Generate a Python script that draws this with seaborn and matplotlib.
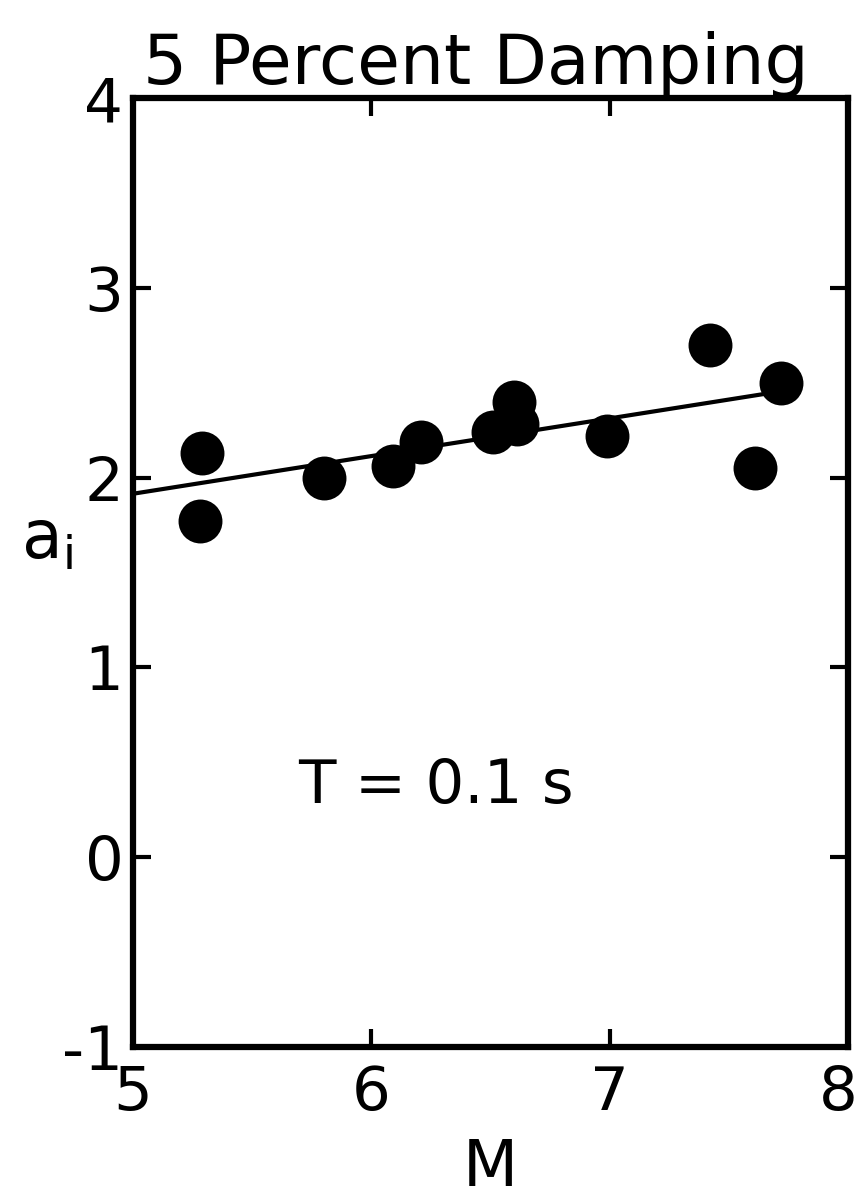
import matplotlib
matplotlib.use("Agg")
import matplotlib.pyplot as plt
import matplotlib.transforms as mtransforms
import seaborn as sns
import pandas as pd

# data
magnitude = [5.29, 5.28, 5.80, 6.09, 6.21, 6.51, 6.60, 6.61, 6.99, 7.42, 7.61, 7.72]
coef_a = [2.13, 1.77, 2.00, 2.06, 2.19, 2.24, 2.40, 2.28, 2.22, 2.70, 2.05, 2.50]
fit_m = [5.0, 7.67]
fit_a = [1.915, 2.445]
x_ticks = [5, 6, 7, 8]
y_ticks = [-1, 0, 1, 2, 3, 4]
y_tick_labels = ["-1", "0", "1", "2", "3", "4"]

sns.set_style("ticks")
plt.rcParams["font.family"] = ["DejaVu Sans"]
plt.rcParams["text.color"] = "black"
plt.rcParams["axes.labelcolor"] = "black"

fig = plt.figure(figsize=(8.62, 12.01), dpi=100)
ax = fig.add_axes([0.1543, 0.1282, 0.8295, 0.7902])

pts = pd.DataFrame({"M": magnitude, "a": coef_a})
line = pd.DataFrame({"M": fit_m, "a": fit_a})

sns.lineplot(data=line, x="M", y="a", ax=ax, color="black", linewidth=3.0)
sns.scatterplot(data=pts, x="M", y="a", ax=ax, color="black", s=1000,
                edgecolor="black", linewidth=0, zorder=3)

ax.set_xlim(5, 8)
ax.set_ylim(-1, 4)
ax.set_xticks(x_ticks)
ax.set_yticks(y_ticks)
ax.set_yticklabels(y_tick_labels)

for sp in ax.spines.values():
    sp.set_visible(True)
    sp.set_linewidth(4.5)
    sp.set_color("black")

ax.tick_params(axis="both", which="both", direction="in", length=13, width=3,
               top=True, right=True, labelsize=44, colors="black")
ax.tick_params(axis="x", pad=12)
ax.tick_params(axis="y", pad=7)

# nudge the last x tick label inward so it stays inside the figure
last = ax.get_xticklabels()[-1]
last.set_transform(last.get_transform() +
                   mtransforms.ScaledTranslation(-0.10, 0, fig.dpi_scale_trans))

ax.set_xlabel("M", fontsize=46, labelpad=10, color="black")
ax.set_ylabel(r"a$_\mathregular{i}$", fontsize=48, rotation=0, color="black")
ax.yaxis.set_label_coords(-0.12, 0.50)

ax.set_title("5 Percent Damping", fontsize=50, pad=4, color="black")
ax.title.set_x(0.48)
ax.text(6.27, 0.37, "T = 0.1 s", fontsize=44, ha="center", va="center",
        color="black")

fig.savefig("out.png", dpi=100)
